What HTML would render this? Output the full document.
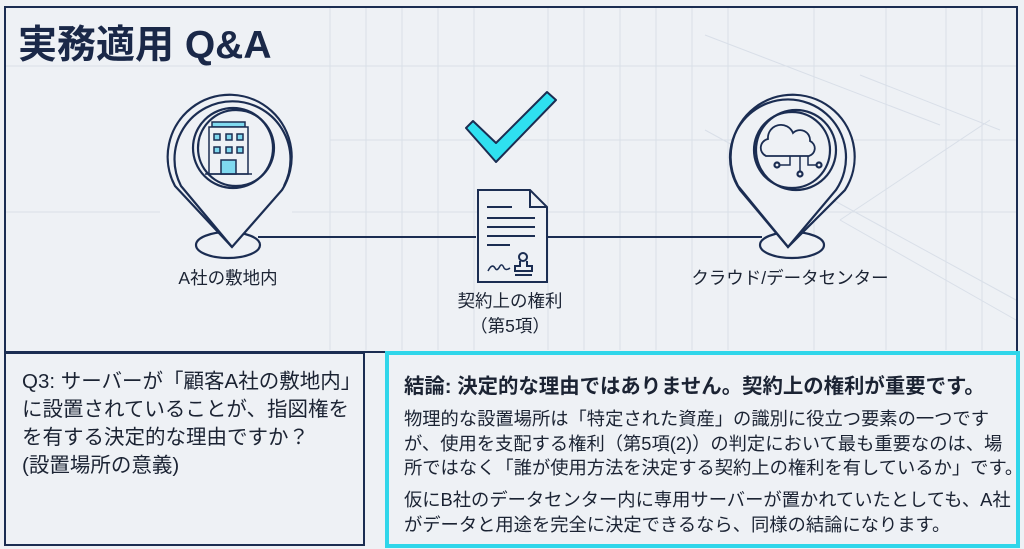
<!DOCTYPE html>
<html><head><meta charset="utf-8"><style>
html,body{margin:0;padding:0;width:1024px;height:549px;overflow:hidden;background:#eef1f5;}
body{position:relative;font-family:"Liberation Sans","Noto Sans CJK JP",sans-serif;color:#1b2333;}
.t{position:absolute;white-space:nowrap;}
</style></head><body>
<svg width="1024" height="549" style="position:absolute;left:0;top:0">
<g stroke="#d9dfe8" stroke-width="1">
<line x1="330" y1="8" x2="330" y2="350"/><line x1="366" y1="8" x2="366" y2="350"/><line x1="402" y1="8" x2="402" y2="350"/><line x1="438" y1="8" x2="438" y2="350"/><line x1="474" y1="8" x2="474" y2="350"/><line x1="548" y1="8" x2="548" y2="350"/><line x1="584" y1="8" x2="584" y2="350"/><line x1="620" y1="8" x2="620" y2="350"/><line x1="656" y1="8" x2="656" y2="350"/><line x1="692" y1="8" x2="692" y2="350"/><line x1="728" y1="8" x2="728" y2="350"/><line x1="814" y1="8" x2="814" y2="350"/><line x1="886" y1="8" x2="886" y2="350"/><line x1="946" y1="8" x2="946" y2="350"/><line x1="982" y1="8" x2="982" y2="350"/>
<line x1="6" y1="66" x2="1016" y2="66"/><line x1="330" y1="140" x2="1016" y2="140"/><line x1="6" y1="212" x2="160" y2="212"/><line x1="292" y1="212" x2="1016" y2="212"/>
<line x1="705" y1="35" x2="940" y2="125"/><line x1="860" y1="75" x2="1000" y2="130"/><line x1="705" y1="130" x2="1016" y2="300"/><line x1="840" y1="220" x2="990" y2="120"/><line x1="840" y1="220" x2="1016" y2="320"/>
</g>
<rect x="5" y="7" width="1012" height="345" fill="none" stroke="#1b2d52" stroke-width="2"/>
<rect x="5" y="353" width="359" height="192" fill="none" stroke="#1b2d52" stroke-width="2"/>
<rect x="387" y="353" width="631" height="193" fill="#eef1f5" stroke="#2fd6ea" stroke-width="4"/>
<line x1="258" y1="237" x2="476" y2="237" stroke="#1b2d52" stroke-width="2"/>
<line x1="547" y1="237" x2="762" y2="237" stroke="#1b2d52" stroke-width="2"/>
<g fill="none" stroke="#1b2d52" stroke-width="2.2">
<ellipse cx="228" cy="245" rx="32" ry="13" fill="#eef1f5"/>
<path d="M232 247 L175 186 A62 62 0 1 1 282 190 Z" fill="#eef1f5"/>
<path d="M232 247 L181 186 A58 58 0 1 1 284 186" />
<circle cx="233" cy="148" r="40"/>
<circle cx="236" cy="148" r="38"/>
</g>
<g fill="#7fd9ef" stroke="#1b2d52" stroke-width="1.5">
<rect x="212" y="122" width="33" height="5"/>
<rect x="209" y="127" width="39" height="47" fill="#eef1f5"/>
<rect x="214" y="134" width="6" height="6"/><rect x="226" y="134" width="6" height="6"/><rect x="237" y="134" width="6" height="6"/>
<rect x="214" y="147" width="6" height="6"/><rect x="226" y="147" width="6" height="6"/><rect x="237" y="147" width="6" height="6"/>
<rect x="221" y="160" width="15" height="14"/>
<line x1="205" y1="174" x2="252" y2="174"/>
</g>
<g fill="none" stroke="#1b2d52" stroke-width="2.2">
<ellipse cx="792" cy="245" rx="32" ry="13" fill="#eef1f5"/>
<path d="M788 247 L845 190 A62 62 0 1 0 738 186 Z" fill="#eef1f5"/>
<path d="M788 247 L740 190 A58 58 0 1 1 836 190 Z"/>
<circle cx="796" cy="150" r="40"/>
<circle cx="792" cy="150" r="38"/>
<path d="M766 156 a9 9 0 0 1 2 -17 a13 13 0 0 1 25 -6 a10 10 0 0 1 17 8 a8 8 0 0 1 -1 15 Z" stroke-width="1.8"/>
<path d="M790 156 v9 h-10 M800 156 v15 M808 156 v9 h8" stroke-width="1.5"/>
<circle cx="777" cy="165" r="2.5"/><circle cx="800" cy="174" r="2.5"/><circle cx="819" cy="165" r="2.5"/>
</g>
<path d="M466 128 L473 121 L496 143 L547 92 L556 100 L496 162 Z" fill="#2fe0f0" stroke="#1b2d52" stroke-width="2" stroke-linejoin="round"/>
<g fill="none" stroke="#1b2d52" stroke-width="2">
<path d="M478 190 H530 L547 207 V282 H478 Z" fill="#eef1f5"/>
<path d="M530 190 V207 H547"/>
<line x1="487" y1="207" x2="512" y2="207"/><line x1="487" y1="218" x2="535" y2="218"/><line x1="487" y1="227" x2="535" y2="227"/><line x1="487" y1="236" x2="535" y2="236"/><line x1="487" y1="245" x2="510" y2="245"/>
<path d="M488 271 q4 -8 7 -3 q2 4 5 -2 q2 -3 4 2 q2 3 6 0" stroke-width="1.5"/>
<circle cx="523" cy="257" r="4"/><path d="M520 261 v5 h-5 v5 h17 v-5 h-5 v-5"/><line x1="515" y1="275" x2="532" y2="275"/>
</g>
</svg>
<div class="t" style="left:18px;top:14px;font-size:39px;font-weight:bold;color:#1a2848">実務適用 Q&amp;A</div>
<div class="t" style="left:158px;top:265px;font-size:17.5px;width:140px;text-align:center">A社の敷地内</div>
<div class="t" style="left:430px;top:289px;font-size:17.5px;width:160px;text-align:center;line-height:25px">契約上の権利<br>（第5項）</div>
<div class="t" style="left:670px;top:265px;font-size:17.5px;width:240px;text-align:center">クラウド/データセンター</div>
<div class="t" style="left:22px;top:368px;font-size:20.5px;line-height:28px">Q3: サーバーが「顧客A社の敷地内」<br>に設置されていることが、指図権を<br>を有する決定的な理由ですか？<br>(設置場所の意義)</div>
<div class="t" style="left:404px;top:369px;font-size:20.4px;font-weight:bold">結論: 決定的な理由ではありません。契約上の権利が重要です。</div>
<div class="t" style="left:404px;top:407px;font-size:18.3px;line-height:24.5px">物理的な設置場所は「特定された資産」の識別に役立つ要素の一つです<br>が、使用を支配する権利（第5項(2)）の判定において最も重要なのは、場<br>所ではなく「誰が使用方法を決定する契約上の権利を有しているか」です。</div>
<div class="t" style="left:404px;top:488px;font-size:18.3px;line-height:24.5px">仮にB社のデータセンター内に専用サーバーが置かれていたとしても、A社<br>がデータと用途を完全に決定できるなら、同様の結論になります。</div>
</body></html>
